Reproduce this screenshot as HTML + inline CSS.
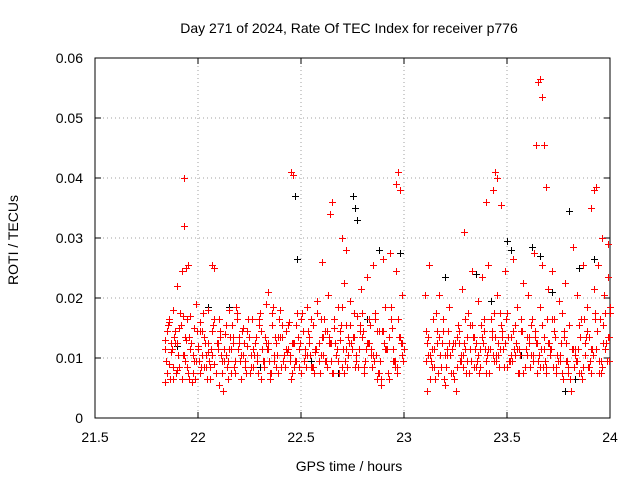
<!DOCTYPE html>
<html><head><meta charset="utf-8"><style>
body{margin:0;background:#fff;}
svg{display:block;font-family:"Liberation Sans",sans-serif;}
</style></head><body>
<svg id="chart" width="640" height="480" viewBox="0 0 640 480">
<rect x="0" y="0" width="640" height="480" fill="#fff"/>
<text x="349" y="33" font-size="14" text-anchor="middle">Day 271 of 2024, Rate Of TEC Index for receiver p776</text>
<g id="grid"></g><g id="axes"></g><g id="marks"></g>
<text x="349" y="471" font-size="14" text-anchor="middle">GPS time / hours</text>
<text x="0" y="0" font-size="14" text-anchor="middle" transform="translate(18,240) rotate(-90)">ROTI / TECUs</text>
</svg>
<script>
const xTicks=[21.5,22,22.5,23,23.5,24];
const xTickLabels=["21.5","22","22.5","23","23.5","24"];
const yTicks=[0,0.01,0.02,0.03,0.04,0.05,0.06];
const yTickLabels=["0","0.01","0.02","0.03","0.04","0.05","0.06"];
const redTimes=[21.93,21.93,22.45,22.46,22.65,22.64,22.97,22.96,22.98,23.44,23.45,23.43,23.65,23.66,23.67,23.68,23.64,23.69,23.92,23.93,23.91,23.96,23.99,23.47,23.40,23.29,21.95,22.07,22.34,22.6,22.7,22.72,
21.84,21.84,21.85,21.86,21.86,21.87,21.88,21.88,21.89,21.90,21.90,21.91,21.92,21.92,21.93,21.94,21.94,21.95,21.96,21.96,21.97,21.98,21.98,21.99,22.00,22.01,22.01,22.02,22.03,22.04,22.05,22.05,22.06,22.07,22.08,22.08,22.09,22.10,22.10,22.11,22.12,22.13,22.14,22.15,22.15,22.16,22.17,22.18,22.19,22.20,22.21,22.22,22.23,22.24,22.25,22.26,22.27,22.28,22.29,22.30,22.31,22.32,22.33,22.34,22.35,22.36,22.37,22.38,22.39,22.40,22.41,22.42,22.43,22.44,22.45,22.46,22.47,22.48,22.49,22.50,22.51,22.52,22.53,22.54,22.55,22.56,22.57,22.58,22.59,22.60,22.61,22.62,22.63,22.64,22.65,22.66,22.67,22.68,22.69,22.70,22.71,22.72,22.73,22.74,22.75,22.76,22.77,22.78,22.79,22.80,22.81,22.82,22.83,22.84,22.85,22.86,22.87,22.88,22.89,22.90,22.91,22.92,22.93,22.94,22.95,22.96,22.97,22.98,22.99,22.99,
23.10,23.11,23.11,23.12,23.13,23.14,23.15,23.16,23.17,23.18,23.19,23.20,23.21,23.22,23.23,23.24,23.25,23.26,23.27,23.28,23.29,23.30,23.31,23.32,23.33,23.34,23.35,23.36,23.37,23.38,23.39,23.40,23.41,23.42,23.43,23.44,23.45,23.46,23.47,23.48,23.49,23.50,23.51,23.52,23.53,23.54,23.55,23.56,23.57,23.58,23.59,23.60,23.61,23.62,23.63,23.64,23.65,23.66,23.67,23.68,23.69,23.70,23.71,23.72,23.73,23.74,23.75,23.76,23.77,23.78,23.79,23.80,23.81,23.82,23.83,23.84,23.85,23.86,23.87,23.88,23.89,23.90,23.91,23.92,23.93,23.94,23.95,23.96,23.97,23.98,23.99,24.00,23.995,
21.845,21.865,21.885,21.905,21.925,21.945,21.965,21.985,22.005,22.025,22.045,22.065,22.085,22.105,22.125,22.145,22.165,22.185,22.205,22.225,22.245,22.265,22.285,22.305,22.325,22.345,22.365,22.385,22.405,22.425,22.445,22.465,22.485,22.505,22.525,22.545,22.565,22.585,22.605,22.625,22.645,22.665,22.685,22.705,22.725,22.745,22.765,22.785,22.805,22.825,22.845,22.865,22.885,22.905,22.925,22.945,22.965,22.985,
23.105,23.125,23.145,23.165,23.185,23.205,23.225,23.245,23.265,23.285,23.305,23.325,23.345,23.365,23.385,23.405,23.425,23.445,23.465,23.485,23.505,23.525,23.545,23.565,23.585,23.605,23.625,23.645,23.665,23.685,23.705,23.725,23.745,23.765,23.785,23.805,23.825,23.845,23.865,23.885,23.905,23.925,23.945,23.965,23.985,
21.855,21.875,21.895,21.915,21.935,21.955,21.975,21.995,22.015,22.035,22.055,22.075,22.095,22.115,22.135,22.155,22.175,22.195,22.215,22.235,22.255,22.275,22.295,22.315,22.335,22.355,22.375,22.395,22.415,22.435,22.455,22.475,22.495,22.515,22.535,22.555,22.575,22.595,22.615,22.635,22.655,22.675,22.695,22.715,22.735,22.755,22.775,22.795,22.815,22.835,22.855,22.875,22.895,22.915,22.935,22.955,22.975,22.995,
23.115,23.135,23.155,23.175,23.195,23.215,23.235,23.255,23.275,23.295,23.315,23.335,23.355,23.375,23.395,23.415,23.435,23.455,23.475,23.495,23.515,23.535,23.555,23.575,23.595,23.615,23.635,23.655,23.675,23.695,23.715,23.735,23.755,23.775,23.795,23.815,23.835,23.855,23.875,23.895,23.915,23.935,23.955,23.975,23.995,
21.838,21.858,21.878,21.898,21.918,21.938,21.958,21.978,21.998,22.018,22.038,22.058,22.078,22.098,22.118,22.138,22.158,22.178,22.198,22.218,22.238,22.258,22.278,22.298,22.318,22.338,22.358,22.378,22.398,22.418,22.438,22.458,22.478,22.498,22.518,22.538,22.558,22.578,22.598,22.618,22.638,22.658,22.678,22.698,22.718,22.738,22.758,22.778,22.798,22.818,22.838,22.858,22.878,22.898,22.918,22.938,22.958,22.978,22.998,
23.108,23.128,23.148,23.168,23.188,23.208,23.228,23.248,23.268,23.288,23.308,23.328,23.348,23.368,23.388,23.408,23.428,23.448,23.468,23.488,23.508,23.528,23.548,23.568,23.588,23.608,23.628,23.648,23.668,23.688,23.708,23.728,23.748,23.768,23.788,23.808,23.828,23.848,23.868,23.888,23.908,23.928,23.948,23.968,23.988,
21.848,21.868,21.888,21.908,21.928,21.948,21.968,21.988,22.008,22.028,22.048,22.068,22.088,22.108,22.128,22.148,22.168,22.188,22.208,22.228,22.248,22.268,22.288,22.308,22.328,22.348,22.368,22.388,22.408,22.428,22.448,22.468,22.488,22.508,22.528,22.548,22.568,22.588,22.608,22.628,22.648,22.668,22.688,22.708,22.728,22.748,22.768,22.788,22.808,22.828,22.848,22.868,22.888,22.908,22.928,22.948,22.968,22.988,
23.118,23.138,23.158,23.178,23.198,23.218,23.238,23.258,23.278,23.298,23.318,23.338,23.358,23.378,23.398,23.418,23.438,23.458,23.478,23.498,23.518,23.538,23.558,23.578,23.598,23.618,23.638,23.658,23.678,23.698,23.718,23.738,23.758,23.778,23.798,23.818,23.838,23.858,23.878,23.898,23.918,23.938,23.958,23.978,23.998];
const redRoti=[.040,.032,.041,.0405,.036,.034,.041,.039,.038,.041,.040,.038,.056,.0565,.0535,.0455,.0455,.0385,.038,.0385,.035,.030,.029,.0355,.036,.031,.0255,.0255,.021,.026,.030,.028,
.006,.013,.0145,.009,.016,.011,.0065,.018,.0125,.008,.022,.015,.0065,.0245,.0105,.025,.013,.0075,.017,.0115,.006,.015,.0095,.019,.012,.0075,.016,.0105,.0135,.0085,.018,.011,.0065,.0145,.025,.009,.0125,.0055,.0165,.0105,.0045,.014,.0085,.018,.0115,.0075,.0135,.0095,.0175,.0125,.0065,.015,.0095,.012,.0075,.0165,.0105,.0135,.0075,.0175,.0115,.0085,.019,.0125,.0065,.0155,.0095,.0125,.0075,.018,.0135,.0085,.011,.016,.0065,.0125,.0095,.0175,.0115,.0075,.0145,.0105,.0185,.0125,.0085,.0155,.011,.0195,.0075,.0135,.0165,.0095,.0205,.0125,.0075,.015,.0105,.0185,.013,.0085,.0225,.0155,.0105,.0195,.0135,.0085,.017,.0115,.0215,.0145,.0095,.0235,.0165,.0115,.0255,.0175,.0065,.0145,.0055,.0265,.0185,.0075,.0275,.015,.0095,.0245,.0165,.0135,.0105,.0205,
.0205,.0125,.0045,.0255,.0095,.0165,.0065,.0125,.0205,.0085,.0145,.0055,.0105,.0185,.0075,.0125,.0045,.0155,.0095,.0215,.0125,.0075,.0175,.0115,.0245,.0135,.0085,.0195,.0115,.0235,.0145,.0095,.0255,.0165,.0105,.0135,.0205,.0085,.0155,.0115,.0245,.0175,.0095,.0135,.0265,.0105,.0185,.0075,.0145,.0225,.0115,.0205,.0085,.0165,.0275,.0125,.0095,.0185,.0255,.0135,.0075,.0215,.0105,.0245,.0165,.0085,.0195,.0125,.0065,.0225,.0095,.0155,.0045,.0285,.0115,.0205,.0075,.0165,.0255,.0105,.0185,.0135,.0075,.0215,.0115,.0255,.0165,.0085,.0205,.0125,.0235,.0175,.0095,
.0095,.0065,.0135,.0105,.017,.0085,.0125,.0065,.0095,.0175,.0065,.0115,.0075,.0135,.0095,.0065,.0155,.0185,.0095,.0125,.0165,.0085,.0105,.0065,.0135,.0095,.0185,.0105,.0085,.0145,.0105,.0085,.0135,.0175,.0085,.0105,.0075,.0125,.0105,.0145,.0095,.0125,.0075,.0115,.0085,.0125,.0105,.0145,.0075,.0125,.0085,.0105,.0095,.0125,.0065,.0115,.0085,.0125,
.0095,.0065,.0115,.0075,.0125,.0085,.0105,.0065,.0125,.0085,.0135,.0095,.0115,.0075,.0125,.0105,.0145,.0095,.0115,.0085,.0135,.0095,.0125,.0105,.0085,.0125,.0095,.0075,.0115,.0095,.0125,.0085,.0105,.0075,.0095,.0065,.0085,.0115,.0065,.0135,.0095,.0165,.0075,.0125,.0095,
.0155,.0115,.0075,.0175,.0135,.0065,.0105,.0145,.0085,.0125,.0095,.0155,.0115,.0075,.0105,.0135,.0085,.0115,.0145,.0075,.0105,.0125,.0155,.0095,.0115,.0075,.0135,.0165,.0095,.0115,.0075,.0155,.0125,.0095,.0145,.0085,.0115,.0165,.0095,.0135,.0075,.0115,.0155,.0095,.0125,.0175,.0085,.0135,.0115,.0155,.0095,.0075,.0145,.0115,.0165,.0085,.0135,.0095,
.0135,.0085,.0175,.0105,.0065,.0145,.0115,.0085,.0105,.0165,.0075,.0135,.0095,.0155,.0115,.0075,.0175,.0105,.0135,.0165,.0095,.0115,.0075,.0145,.0105,.0155,.0135,.0105,.0085,.0165,.0115,.0135,.0095,.0145,.0075,.0115,.0095,.0135,.0165,.0085,.0115,.0145,.0095,.0175,.0135,
.0115,.0165,.0085,.0125,.0155,.0095,.0135,.0075,.0115,.0145,.0105,.0085,.0165,.0125,.0095,.0155,.0115,.0075,.0135,.0105,.0145,.0085,.0125,.0165,.0095,.0115,.0175,.0085,.0135,.0105,.0155,.0125,.0095,.0165,.0115,.0135,.0085,.0175,.0105,.0145,.0125,.0165,.0095,.0185,.0115,.0155,.0135,.0085,.0175,.0125,.0105,.0165,.0075,.0145,.0115,.0185,.0095,.0135,.0115,
.0145,.0105,.0085,.0135,.0165,.0115,.0075,.0125,.0145,.0105,.0095,.0155,.0125,.0085,.0165,.0115,.0135,.0105,.0175,.0125,.0095,.0145,.0115,.0165,.0085,.0135,.0105,.0125,.0155,.0085,.0115,.0145,.0095,.0175,.0125,.0065,.0105,.0155,.0085,.0145,.0115,.0175,.0095,.0155,.0135,
.0075,.0125,.0145,.0085,.0105,.0165,.0125,.0095,.0145,.0085,.0125,.0105,.0075,.0145,.0115,.0095,.0125,.0165,.0105,.0085,.0135,.0115,.0095,.0145,.0125,.0075,.0105,.0135,.0155,.0115,.0095,.0125,.0085,.0145,.0105,.0165,.0115,.0095,.0135,.0085,.0125,.0105,.0145,.0075,.0135,.0115,.0095,.0155,.0085,.0125,.0105,.0145,.0065,.0115,.0135,.0095,.0075,.0125,.0105,
.0115,.0145,.0085,.0105,.0125,.0075,.0135,.0095,.0115,.0155,.0085,.0105,.0135,.0075,.0115,.0095,.0125,.0145,.0085,.0105,.0155,.0115,.0075,.0135,.0105,.0145,.0085,.0115,.0125,.0165,.0075,.0105,.0135,.0085,.0115,.0095,.0075,.0125,.0085,.0105,.0145,.0075,.0115,.0185,.0105];
const blackTimes=[22.47,22.48,22.75,22.76,22.77,23.80,21.9,22.15,22.55,22.68,22.88,22.98,23.35,23.5,23.52,23.62,23.66,23.72,23.78,23.85,23.92,22.05,22.3,23.2,23.57,22.82,23.42,23.83];
const blackRoti=[.037,.0265,.037,.035,.033,.0345,.012,.0185,.0095,.0075,.028,.0275,.024,.0295,.028,.0285,.027,.021,.0045,.025,.0265,.0185,.0085,.0235,.0105,.0165,.0195,.0065];

const L=95,R=610,T=58,B=418;
const xs=v=>L+(v-21.5)/2.5*(R-L);
const ys=v=>B-v/0.06*(B-T);
const NS="http://www.w3.org/2000/svg";
function mk(tag,attrs,parent){const e=document.createElementNS(NS,tag);for(const k in attrs)e.setAttribute(k,attrs[k]);parent.appendChild(e);return e;}
const grid=document.getElementById('grid'),axes=document.getElementById('axes'),marks=document.getElementById('marks');
xTicks.forEach((t,i)=>{
  const x=xs(t);
  if(i>0&&i<xTicks.length-1){const g=mk('line',{x1:x,x2:x,y1:T,y2:B,stroke:'#a0a0a0','stroke-width':1,'stroke-dasharray':'1,3'},grid);
  
  }
  mk('line',{x1:x,x2:x,y1:B,y2:B-6,stroke:'#000'},axes);
  mk('line',{x1:x,x2:x,y1:T,y2:T+6,stroke:'#000'},axes);
  const tx=mk('text',{x:x,y:B+24,'font-size':14,'text-anchor':'middle'},axes);
  tx.textContent=xTickLabels[i];
  
  
});
yTicks.forEach((t,i)=>{
  const y=ys(t);
  if(i>0&&i<yTicks.length-1){const g=mk('line',{x1:L,x2:R,y1:y,y2:y,stroke:'#a0a0a0','stroke-width':1,'stroke-dasharray':'1,3'},grid);
  
  }
  mk('line',{x1:L,x2:L+6,y1:y,y2:y,stroke:'#000'},axes);
  mk('line',{x1:R,x2:R-6,y1:y,y2:y,stroke:'#000'},axes);
  const tx=mk('text',{x:L-12,y:y+5,'font-size':14,'text-anchor':'end'},axes);
  tx.textContent=yTickLabels[i];
  
  
});
const frame=mk('rect',{x:L,y:T,width:R-L,height:B-T,fill:'none',stroke:'#000','stroke-width':1},axes);


function plus(times,vals,color,name){
  const n=Math.min(times.length,vals.length);
  for(let i=0;i<n;i++){
    const x=Math.round(xs(times[i]))+0.5,y=Math.round(ys(vals[i]))+0.5;
    if(!isFinite(x)||!isFinite(y))continue;
    const p=mk('path',{d:`M${x-3.5} ${y}h7M${x} ${y-3.5}v7`,stroke:color,'stroke-width':1,fill:'none'},marks);
    
    
  }
}
plus(blackTimes,blackRoti,'#000000','roti-point-black');
plus(redTimes,redRoti,'#ff0000','roti-point-red');
</script>
</body></html>
